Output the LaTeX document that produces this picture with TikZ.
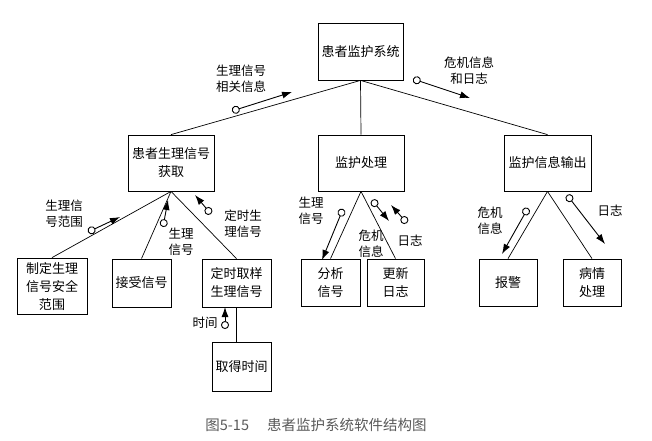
\documentclass[tikz,border=0pt]{standalone}
\usepackage{fontspec}
\setmainfont{Noto Sans CJK SC}
\usetikzlibrary{arrows.meta}
\definecolor{captiongray}{rgb}{0.35,0.35,0.35}
\tikzset{
  modbox/.style={draw, line width=0.8pt, align=center, inner sep=0pt,
    font=\fontsize{13}{18}\selectfont},
  flowlabel/.style={align=center, inner sep=0pt, font=\fontsize{12.5}{16}\selectfont},
  flowarrow/.style={line width=0.9pt,
    {Circle[open,length=8pt,width=8pt]}-{Latex[length=10pt,width=7pt]}},
  treeline/.style={line width=0.7pt}
}
\begin{document}
\begin{tikzpicture}[x=1pt,y=-1pt]
\useasboundingbox (0,0) rectangle (652,440);

% Marking module boxes
\node [modbox, minimum width=85pt, minimum height=57pt] (xitong) at (360.5,51.5) {患者监护系统};
\node [modbox, minimum width=86pt, minimum height=56pt] (huoqu) at (171,163) {患者生理信号\\获取};
\node [modbox, minimum width=86pt, minimum height=56pt] (chuli) at (361,163) {监护处理};
\node [modbox, minimum width=87pt, minimum height=56pt] (shuchu) at (547.5,163) {监护信息输出};
\node [modbox, minimum width=70pt, minimum height=56pt] (zhiding) at (52,286) {制定生理\\信号安全\\范围};
\node [modbox, minimum width=59pt, minimum height=48pt] (jieshou) at (141.5,283) {接受信号};
\node [modbox, minimum width=69pt, minimum height=48pt] (dingshi) at (236.5,283) {定时取样\\生理信号};
\node [modbox, minimum width=59pt, minimum height=47pt] (fenxi) at (330.5,282.5) {分析\\信号};
\node [modbox, minimum width=57pt, minimum height=47pt] (gengxin) at (395.5,282.5) {更新\\日志};
\node [modbox, minimum width=58pt, minimum height=47pt] (baojing) at (508,282.5) {报警};
\node [modbox, minimum width=58pt, minimum height=47pt] (bingqing) at (592,282.5) {病情\\处理};
\node [modbox, minimum width=59pt, minimum height=49pt] (qude) at (241.5,366.5) {取得时间};

% Drawing segments of the tree
\draw [treeline] (xitong.south) -- (huoqu.north);
\draw [treeline] (xitong.south) -- (chuli.north);
\draw [treeline] (xitong.south) -- (shuchu.north);
\draw [treeline] (huoqu.south) -- (zhiding.north);
\draw [treeline] (huoqu.south) -- (jieshou.north);
\draw [treeline] (huoqu.south) -- (dingshi.north);
\draw [treeline] (chuli.south) -- (fenxi.north);
\draw [treeline] (chuli.south) -- (gengxin.north);
\draw [treeline] (shuchu.south) -- (baojing.north);
\draw [treeline] (shuchu.south) -- (bingqing.north);
\draw [treeline] (dingshi.south) -- (dingshi.south |- qude.north);

% Marking ends of the data flows
\coordinate (f1s) at (232,111);  \coordinate (f1e) at (292,92);
\coordinate (f2s) at (413,79);   \coordinate (f2e) at (470,98);
\coordinate (f3s) at (88,232);   \coordinate (f3e) at (120,217);
\coordinate (f4s) at (163,227);  \coordinate (f4e) at (168,200);
\coordinate (f5s) at (211,214);  \coordinate (f5e) at (195,195);
\coordinate (f6s) at (225,329);  \coordinate (f6e) at (225,307);
\coordinate (f7s) at (343,209);  \coordinate (f7e) at (322,260);
\coordinate (f8s) at (372,200);  \coordinate (f8e) at (389,221);
\coordinate (f9s) at (407,223);  \coordinate (f9e) at (391,205);
\coordinate (f10s) at (528,208); \coordinate (f10e) at (502,254);
\coordinate (f11s) at (567,195); \coordinate (f11e) at (605,244);

% Drawing data flows
\foreach \f in {1,...,11}
  \draw [flowarrow] (f\f s) -- (f\f e);

% Marking data flow labels
\node [flowlabel] (l1) at (241,79) {生理信号\\相关信息};
\node [flowlabel] (l2) at (469,71) {危机信息\\和日志};
\node [flowlabel] (l3) at (64,214) {生理信\\号范围};
\node [flowlabel] (l4) at (181,242) {生理\\信号};
\node [flowlabel] (l5) at (243,224) {定时生\\理信号};
\node [flowlabel] (l6) at (205,323) {时间};
\node [flowlabel] (l7) at (311,211) {生理\\信号};
\node [flowlabel] (l8) at (371,244) {危机\\信息};
\node [flowlabel] (l9) at (410,241) {日志};
\node [flowlabel] (l10) at (490,221) {危机\\信息};
\node [flowlabel] (l11) at (610,211) {日志};

% Marking caption
\node [text=captiongray, inner sep=0pt, font=\fontsize{14.5}{16}\selectfont] (caption) at (316,425)
  {图5-15\hspace{18pt}患者监护系统软件结构图};
\end{tikzpicture}
\end{document}
